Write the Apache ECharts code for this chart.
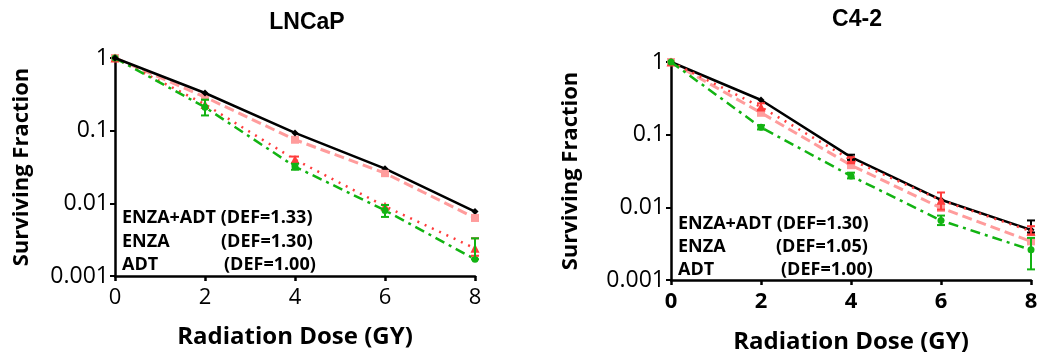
<!DOCTYPE html>
<html>
<head>
<meta charset="utf-8">
<script src="https://cdn.jsdelivr.net/npm/echarts@6/dist/echarts.min.js"></script>
<style>
  html, body { margin: 0; padding: 0; background: #fff; }
  #chart { width: 1037px; height: 352px; }
</style>
</head>
<body>
<div id="chart"></div>
<script>
// radiation doses (GY)
var doses = [0, 2, 4, 6, 8];
var xTicks = ["0", "2", "4", "6", "8"];

// LNCaP surviving fraction
var lncapControl = [1, 0.33, 0.093, 0.030, 0.0077];
var lncapADT = [1, 0.29, 0.075, 0.026, 0.0063];
var lncapENZA = [1, 0.23, 0.040, 0.0091, 0.0024];
var lncapCombo = [1, 0.21, 0.032, 0.0080, 0.0017];
// error bars [low, high], null = none visible
var lncapENZAErr = [null, null, [0.036, 0.044], null, [0.0019, 0.0033]];
var lncapComboErr = [null, [0.162, 0.267], [0.029, 0.035], [0.0065, 0.0095], [0.0017, 0.0033]];
var lncapADTErr = [null, null, null, [0.024, 0.028], [0.0058, 0.0069]];

// C4-2 surviving fraction
var c42Control = [1, 0.30, 0.049, 0.0127, 0.0049];
var c42ADT = [1, 0.20, 0.038, 0.0098, 0.0034];
var c42ENZA = [1, 0.24, 0.045, 0.0125, 0.0047];
var c42Combo = [1, 0.126, 0.027, 0.0066, 0.0026];
var c42ControlErr = [null, null, [0.045, 0.053], null, [0.0045, 0.0066]];
var c42ENZAErr = [null, [0.22, 0.27], [0.041, 0.049], [0.0093, 0.016], [0.0042, 0.0055]];
var c42ComboErr = [null, [0.118, 0.135], [0.025, 0.030], [0.0057, 0.0077], [0.0014, 0.0038]];

var lncapLabels = ["ENZA+ADT (DEF=1.33)", "ENZA", "(DEF=1.30)", "ADT", "(DEF=1.00)"];
var c42Labels = ["ENZA+ADT (DEF=1.30)", "ENZA", "(DEF=1.05)", "ADT", "(DEF=1.00)"];

var FONT = "Open Sans";
var colors = { control: "#000000", adt: "#ff9c9c", enza: "#ff3c3c", combo: "#12b312" };

function pairs(vals) {
  return doses.map(function (d, i) { return [d, vals[i]]; });
}

function errData(errs) {
  var out = [];
  errs.forEach(function (e, i) {
    if (e) out.push([doses[i], e[0], e[1]]);
  });
  return out;
}

function lineSeries(name, vals, idx, color, type, symbol, size, width, z) {
  return {
    name: name,
    type: "line",
    xAxisIndex: idx,
    yAxisIndex: idx,
    data: pairs(vals),
    symbol: symbol,
    symbolSize: size,
    z: z,
    itemStyle: { color: color },
    lineStyle: { color: color, width: width, type: type },
    animation: false
  };
}

function errSeries(errs, idx, color, z) {
  return {
    type: "custom",
    xAxisIndex: idx,
    yAxisIndex: idx,
    data: errData(errs),
    encode: { x: 0, y: [1, 2] },
    z: z,
    silent: true,
    animation: false,
    renderItem: function (params, api) {
      var lo = api.coord([api.value(0), api.value(1)]);
      var hi = api.coord([api.value(0), api.value(2)]);
      var w = 4;
      var st = { stroke: color, lineWidth: 2 };
      return {
        type: "group",
        children: [
          { type: "line", shape: { x1: lo[0], y1: lo[1], x2: hi[0], y2: hi[1] }, style: st },
          { type: "line", shape: { x1: lo[0] - w, y1: lo[1], x2: lo[0] + w, y2: lo[1] }, style: st },
          { type: "line", shape: { x1: hi[0] - w, y1: hi[1], x2: hi[0] + w, y2: hi[1] }, style: st }
        ]
      };
    }
  };
}

function xAxis(idx, bold, gap) {
  return {
    type: "value",
    gridIndex: idx,
    min: 0,
    max: 8,
    interval: 2,
    name: "Radiation Dose (GY)",
    nameLocation: "middle",
    nameGap: gap,
    nameTextStyle: { fontFamily: FONT, fontWeight: "bold", fontSize: 24, color: "#000" },
    axisLine: { show: true, onZero: false, lineStyle: { color: "#000", width: 2.5 } },
    axisTick: { show: true, length: 5, lineStyle: { color: "#000", width: 2.5 } },
    axisLabel: {
      fontFamily: FONT, fontSize: 22, color: "#000", margin: 11,
      fontWeight: bold ? "bold" : "normal",
      formatter: function (v) { return xTicks[doses.indexOf(v)]; }
    },
    splitLine: { show: false }
  };
}

function yAxis(idx, gap) {
  return {
    type: "log",
    logBase: 10,
    gridIndex: idx,
    min: 0.001,
    max: 1,
    name: "Surviving Fraction",
    nameLocation: "middle",
    nameRotate: 90,
    nameGap: gap,
    nameTextStyle: { fontFamily: FONT, fontWeight: "bold", fontSize: 22, color: "#000" },
    axisLine: { show: true, lineStyle: { color: "#000", width: 2.5 } },
    axisTick: { show: true, length: 5, lineStyle: { color: "#000", width: 2 } },
    axisLabel: {
      fontFamily: FONT, fontSize: 23, color: "#000", margin: 6,
      formatter: function (v) { return String(+v.toPrecision(3)); }
    },
    splitLine: { show: false },
    minorTick: { show: false }
  };
}

function labelGraphics(labels, x0, x1, x2, ys) {
  var st = { fontFamily: FONT, fontWeight: "bold", fontSize: 18, fill: "#000" };
  function t(text, x, y) {
    return { type: "text", left: x, top: y, z: 50, style: Object.assign({ text: text }, st) };
  }
  return [
    t(labels[0], x0, ys[0]),
    t(labels[1], x0, ys[1]),
    t(labels[2], x1, ys[1]),
    t(labels[3], x0, ys[2]),
    t(labels[4], x2, ys[2])
  ];
}

var chart = echarts.init(document.getElementById("chart"));

var option = {
  backgroundColor: "#fff",
  animation: false,
  title: [
    { text: "LNCaP", left: 302, top: 6, textAlign: "center",
      textStyle: { fontFamily: "Liberation Sans", fontWeight: "bold", fontSize: 23, color: "#000" } },
    { text: "C4-2", left: 852, top: 3, textAlign: "center",
      textStyle: { fontFamily: "Liberation Sans", fontWeight: "bold", fontSize: 23, color: "#000" } }
  ],
  grid: [
    { left: 115, top: 58, width: 360, height: 218, outerBoundsMode: "none", containLabel: false },
    { left: 671, top: 62, width: 360, height: 218, outerBoundsMode: "none", containLabel: false }
  ],
  xAxis: [xAxis(0, false, 49), xAxis(1, true, 50)],
  yAxis: [yAxis(0, 82), yAxis(1, 89)],
  series: [
    lineSeries("ADT", lncapADT, 0, colors.adt, [10, 5], "rect", 8, 3, 2),
    lineSeries("ENZA", lncapENZA, 0, colors.enza, [2, 6], "triangle", 9, 2.5, 3),
    lineSeries("ENZA+ADT", lncapCombo, 0, colors.combo, [10, 5, 3, 5], "circle", 7, 2.5, 4),
    lineSeries("Control", lncapControl, 0, colors.control, "solid", "diamond", 7, 2.5, 5),
    errSeries(lncapADTErr, 0, colors.adt, 6),
    errSeries(lncapENZAErr, 0, colors.enza, 6),
    errSeries(lncapComboErr, 0, colors.combo, 7),

    lineSeries("ADT", c42ADT, 1, colors.adt, [10, 5], "rect", 8, 3, 2),
    lineSeries("Control", c42Control, 1, colors.control, "solid", "diamond", 7, 2.5, 3),
    lineSeries("ENZA", c42ENZA, 1, colors.enza, [2, 6], "triangle", 9, 2.5, 4),
    lineSeries("ENZA+ADT", c42Combo, 1, colors.combo, [10, 5, 3, 5], "circle", 7, 2.5, 5),
    errSeries(c42ControlErr, 1, colors.control, 6),
    errSeries(c42ENZAErr, 1, colors.enza, 7),
    errSeries(c42ComboErr, 1, colors.combo, 7)
  ],
  graphic: labelGraphics(lncapLabels, 122, 221, 224, [209, 233, 256])
    .concat(labelGraphics(c42Labels, 678, 776, 781, [215, 238, 261]))
};

chart.setOption(option);
</script>
</body>
</html>
